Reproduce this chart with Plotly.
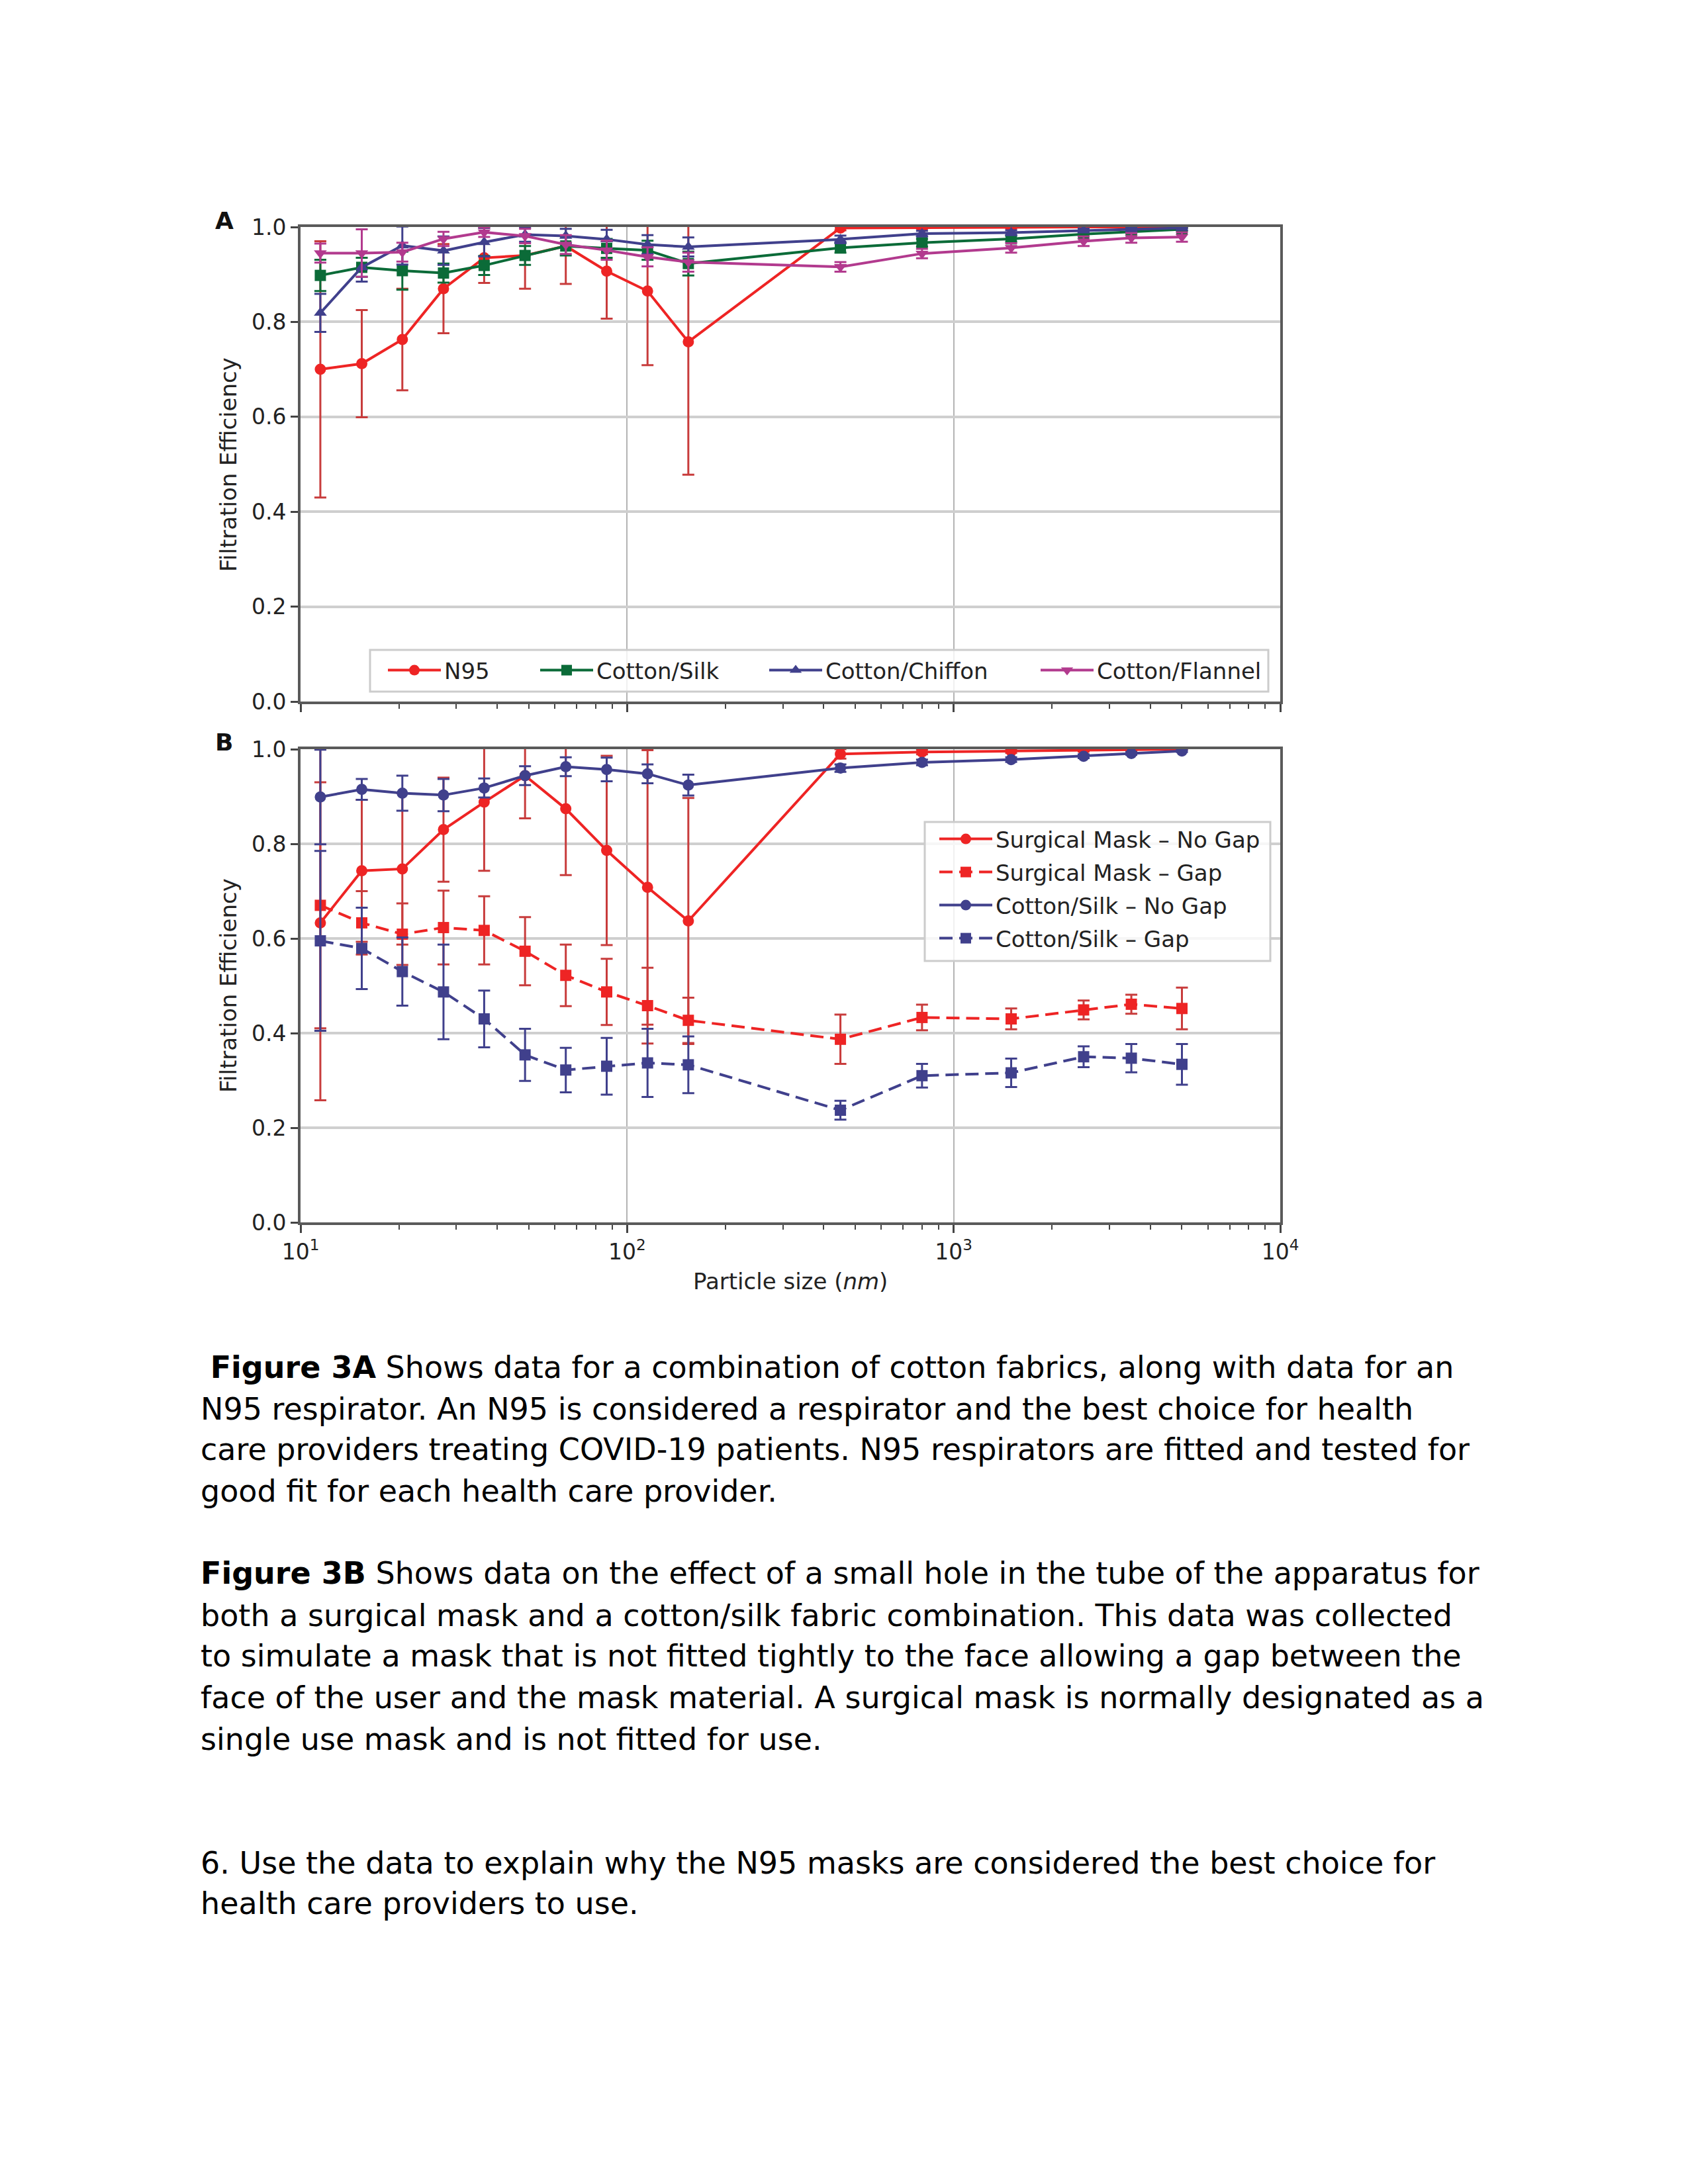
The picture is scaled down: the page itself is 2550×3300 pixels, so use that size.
import plotly.graph_objects as go

# ---------------- data ----------------
sizes = [11.5, 15.4, 20.5, 27.4, 36.5, 48.7, 64.9, 86.6, 115.5, 154.0,
         450, 800, 1500, 2500, 3500, 5000]

# Panel A
n95 = [0.700, 0.712, 0.763, 0.870, 0.935, 0.940, 0.960, 0.907, 0.865, 0.758,
       0.998, 0.999, 0.999, 1.000, 1.000, 1.000]
n95_err = [0.27, 0.113, 0.107, 0.094, 0.053, 0.07, 0.08, 0.10, 0.156, 0.28,
           0.005, 0.003, 0.002, 0.001, 0.001, 0.001]
silk = [0.898, 0.915, 0.908, 0.903, 0.919, 0.940, 0.960, 0.955, 0.951, 0.923,
        0.956, 0.967, 0.975, 0.985, 0.990, 0.995]
silk_err = [0.033, 0.02, 0.04, 0.02, 0.02, 0.02, 0.02, 0.02, 0.02, 0.025,
            0.01, 0.008, 0.006, 0.005, 0.004, 0.003]
chiffon = [0.819, 0.915, 0.961, 0.950, 0.968, 0.984, 0.981, 0.974, 0.963, 0.958,
           0.974, 0.986, 0.988, 0.993, 0.995, 0.998]
chiffon_err = [0.04, 0.03, 0.04, 0.03, 0.03, 0.015, 0.015, 0.02, 0.02, 0.02,
               0.008, 0.006, 0.005, 0.004, 0.003, 0.002]
flannel = [0.945, 0.945, 0.947, 0.975, 0.989, 0.981, 0.963, 0.951, 0.937, 0.926,
           0.916, 0.944, 0.956, 0.970, 0.977, 0.979]
flannel_err = [0.02, 0.05, 0.02, 0.015, 0.01, 0.015, 0.02, 0.02, 0.02, 0.02,
               0.01, 0.01, 0.01, 0.01, 0.01, 0.01]

# Panel B
sm_nogap = [0.633, 0.743, 0.747, 0.830, 0.888, 0.944, 0.874, 0.786, 0.708, 0.637,
            0.990, 0.994, 0.996, 0.998, 0.999, 1.000]
sm_nogap_err = [0.375, 0.15, 0.16, 0.11, 0.145, 0.09, 0.14, 0.20, 0.29, 0.26,
                0.01, 0.005, 0.004, 0.003, 0.002, 0.001]
sm_gap = [0.670, 0.633, 0.609, 0.623, 0.617, 0.573, 0.522, 0.487, 0.458, 0.427,
          0.387, 0.433, 0.430, 0.449, 0.461, 0.452]
sm_gap_err = [0.26, 0.067, 0.065, 0.078, 0.072, 0.072, 0.065, 0.07, 0.08, 0.048,
              0.052, 0.027, 0.022, 0.02, 0.02, 0.044]
cs_nogap = [0.899, 0.915, 0.907, 0.903, 0.918, 0.944, 0.963, 0.957, 0.948, 0.924,
            0.960, 0.972, 0.978, 0.985, 0.991, 0.996]
cs_nogap_err = [0.1, 0.022, 0.037, 0.034, 0.02, 0.02, 0.02, 0.025, 0.02, 0.022,
                0.008, 0.006, 0.005, 0.004, 0.003, 0.002]
cs_gap = [0.595, 0.579, 0.530, 0.487, 0.430, 0.354, 0.322, 0.330, 0.337, 0.333,
          0.237, 0.310, 0.316, 0.350, 0.347, 0.334]
cs_gap_err = [0.19, 0.086, 0.072, 0.10, 0.06, 0.055, 0.047, 0.06, 0.072, 0.06,
              0.02, 0.025, 0.03, 0.022, 0.03, 0.043]

labels_a = ["N95", "Cotton/Silk", "Cotton/Chiffon", "Cotton/Flannel"]
labels_b = ["Surgical Mask \u2013 No Gap", "Surgical Mask \u2013 Gap",
            "Cotton/Silk \u2013 No Gap", "Cotton/Silk \u2013 Gap"]
x_tickvals = [10, 100, 1000, 10000]
x_ticktext = ["10<sup>1</sup>", "10<sup>2</sup>", "10<sup>3</sup>", "10<sup>4</sup>"]
y_tickvals = [0.0, 0.2, 0.4, 0.6, 0.8, 1.0]

para1 = [" <b>Figure 3A</b> Shows data for a combination of cotton fabrics, along with data for an",
         "N95 respirator. An N95 is considered a respirator and the best choice for health",
         "care providers treating COVID-19 patients. N95 respirators are fitted and tested for",
         "good fit for each health care provider."]
para2 = ["<b>Figure 3B</b> Shows data on the effect of a small hole in the tube of the apparatus for",
         "both a surgical mask and a cotton/silk fabric combination. This data was collected",
         "to simulate a mask that is not fitted tightly to the face allowing a gap between the",
         "face of the user and the mask material. A surgical mask is normally designated as a",
         "single use mask and is not fitted for use."]
para3 = ["6. Use the data to explain why the N95 masks are considered the best choice for",
         "health care providers to use."]

# ---------------- styling ----------------
W, H = 2550, 3300
OFF = 8          # page body margin in the browser
RED = "#ee2424"
RED_E = "#c83c3c"
GREEN = "#0b6b38"
BLUE = "#40408c"
MAG = "#b23a8e"
FONT = "DejaVu Sans"
IW = 80           # legend item width
TXT_OFF = IW + 11 # approx offset legend x -> text start

def px_x(p):
    return (p - OFF) / W

def px_y(p):
    return 1 - (p - OFF) / H

fig = go.Figure()

def add(x, y, e, name, color, ecolor, symbol, xa, ya, legend, dash="solid"):
    fig.add_trace(go.Scatter(
        x=x, y=y, name=name, mode="lines+markers",
        line=dict(color=color, width=4, dash=dash),
        marker=dict(color=color, size=17, symbol=symbol),
        error_y=dict(type="data", array=e, visible=True, color=ecolor,
                     thickness=3, width=9),
        xaxis=xa, yaxis=ya, legend=legend))

DASH = "20px,10px"
add(sizes, n95, n95_err, labels_a[0], RED, RED_E, "circle", "x", "y", "legend")
add(sizes, silk, silk_err, labels_a[1], GREEN, GREEN, "square", "x", "y", "legend3")
add(sizes, chiffon, chiffon_err, labels_a[2], BLUE, BLUE, "triangle-up", "x", "y", "legend4")
add(sizes, flannel, flannel_err, labels_a[3], MAG, MAG, "triangle-down", "x", "y", "legend5")

add(sizes, sm_nogap, sm_nogap_err, labels_b[0], RED, RED_E, "circle", "x2", "y2", "legend2")
add(sizes, sm_gap, sm_gap_err, labels_b[1], RED, RED_E, "square", "x2", "y2", "legend6", dash=DASH)
add(sizes, cs_nogap, cs_nogap_err, labels_b[2], BLUE, BLUE, "circle", "x2", "y2", "legend7")
add(sizes, cs_gap, cs_gap_err, labels_b[3], BLUE, BLUE, "square", "x2", "y2", "legend8", dash=DASH)

minor_vals = [m * 10 ** k for k in (1, 2, 3) for m in range(2, 10)]

xdom = [px_x(454), px_x(1934)]

def xaxis(anchor, show_labels):
    return dict(type="log", range=[1, 4], domain=xdom, anchor=anchor, automargin=False,
                tickvals=x_tickvals, ticktext=x_ticktext if show_labels else [""] * 4,
                showticklabels=show_labels,
                ticks="outside", ticklen=12, tickwidth=3, tickcolor="#444",
                showgrid=True, gridcolor="#b4b4b4", gridwidth=2,
                showline=True, linecolor="#5a5a5a", linewidth=4, mirror=True,
                tickfont=dict(family=FONT, size=33, color="#222"),
                minor=dict(tickvals=minor_vals, ticks="outside", ticklen=7,
                           tickwidth=2, tickcolor="#444", showgrid=False),
                zeroline=False)

def yaxis(anchor, dom):
    return dict(range=[0, 1.0], domain=dom, anchor=anchor, automargin=False,
                tickvals=y_tickvals, tickformat=".1f",
                ticks="outside", ticklen=11, tickwidth=3, tickcolor="#444",
                showgrid=True, gridcolor="#cfcfcf", gridwidth=4,
                showline=True, linecolor="#5a5a5a", linewidth=4, mirror=True,
                tickfont=dict(family=FONT, size=33, color="#222"),
                zeroline=False)

def leg(text_x, yc):
    return dict(orientation="v", x=px_x(text_x - TXT_OFF), y=px_y(yc),
                xanchor="left", yanchor="middle",
                bgcolor="rgba(0,0,0,0)", borderwidth=0,
                font=dict(family=FONT, size=34, color="#222"), itemwidth=IW)

layout = dict(
    width=W, height=H, autosize=False,
    margin=dict(l=0, r=0, t=0, b=0, pad=0),
    paper_bgcolor="white", plot_bgcolor="white",
    font=dict(family=FONT, color="#222"),
    xaxis=xaxis("y", False),
    yaxis=yaxis("x", [px_y(1060), px_y(343)]),
    xaxis2=xaxis("y2", True),
    yaxis2=yaxis("x2", [px_y(1847), px_y(1132)]),
    showlegend=True,
)
# legend A entries (horizontal row)
legA_text = [672, 902, 1248, 1658]
for name, tx in zip(["legend", "legend3", "legend4", "legend5"], legA_text):
    layout[name] = leg(tx, 1013)
# legend B entries (column)
legB_rows = [1268, 1318, 1368, 1418]
for name, yc in zip(["legend2", "legend6", "legend7", "legend8"], legB_rows):
    layout[name] = leg(1505, yc)
fig.update_layout(**layout)

# legend frames
fig.add_shape(type="rect", xref="paper", yref="paper", layer="above",
              x0=px_x(559), x1=px_x(1916), y0=px_y(1045), y1=px_y(982),
              fillcolor="rgba(255,255,255,0.8)", line=dict(color="#cccccc", width=3))
fig.add_shape(type="rect", xref="paper", yref="paper", layer="above",
              x0=px_x(1397), x1=px_x(1919), y0=px_y(1452), y1=px_y(1242),
              fillcolor="rgba(255,255,255,0.8)", line=dict(color="#cccccc", width=3))

ann = []
# panel letters
ann.append(dict(text="<b>A</b>", x=px_x(339), y=px_y(333),
                font=dict(family=FONT, size=36, color="#111")))
ann.append(dict(text="<b>B</b>", x=px_x(339), y=px_y(1121),
                font=dict(family=FONT, size=36, color="#111")))
# y titles
for yc in (702, 1489):
    ann.append(dict(text="Filtration Efficiency", x=px_x(345), y=px_y(yc), textangle=-90,
                    font=dict(family=FONT, size=34, color="#222")))
# x title
ann.append(dict(text="Particle size (<i>nm</i>)", x=px_x(1194), y=px_y(1936),
                font=dict(family=FONT, size=34, color="#222")))

# body text
def add_lines(lines, ys, x0=301):
    for t, yc in zip(lines, ys):
        ann.append(dict(text=t, x=px_x(x0), y=px_y(yc), xanchor="left",
                        align="left", font=dict(family=FONT, size=46, color="#000")))

add_lines(para1, [2066, 2129, 2190, 2253])
add_lines(para2, [2377, 2441, 2502, 2565, 2628])
add_lines(para3, [2815, 2876])

final = []
for a in ann:
    d = dict(xref="paper", yref="paper", showarrow=False, xanchor="center", yanchor="middle")
    d.update(a)
    final.append(d)
fig.update_layout(annotations=final)

fig.write_html("out.html")
